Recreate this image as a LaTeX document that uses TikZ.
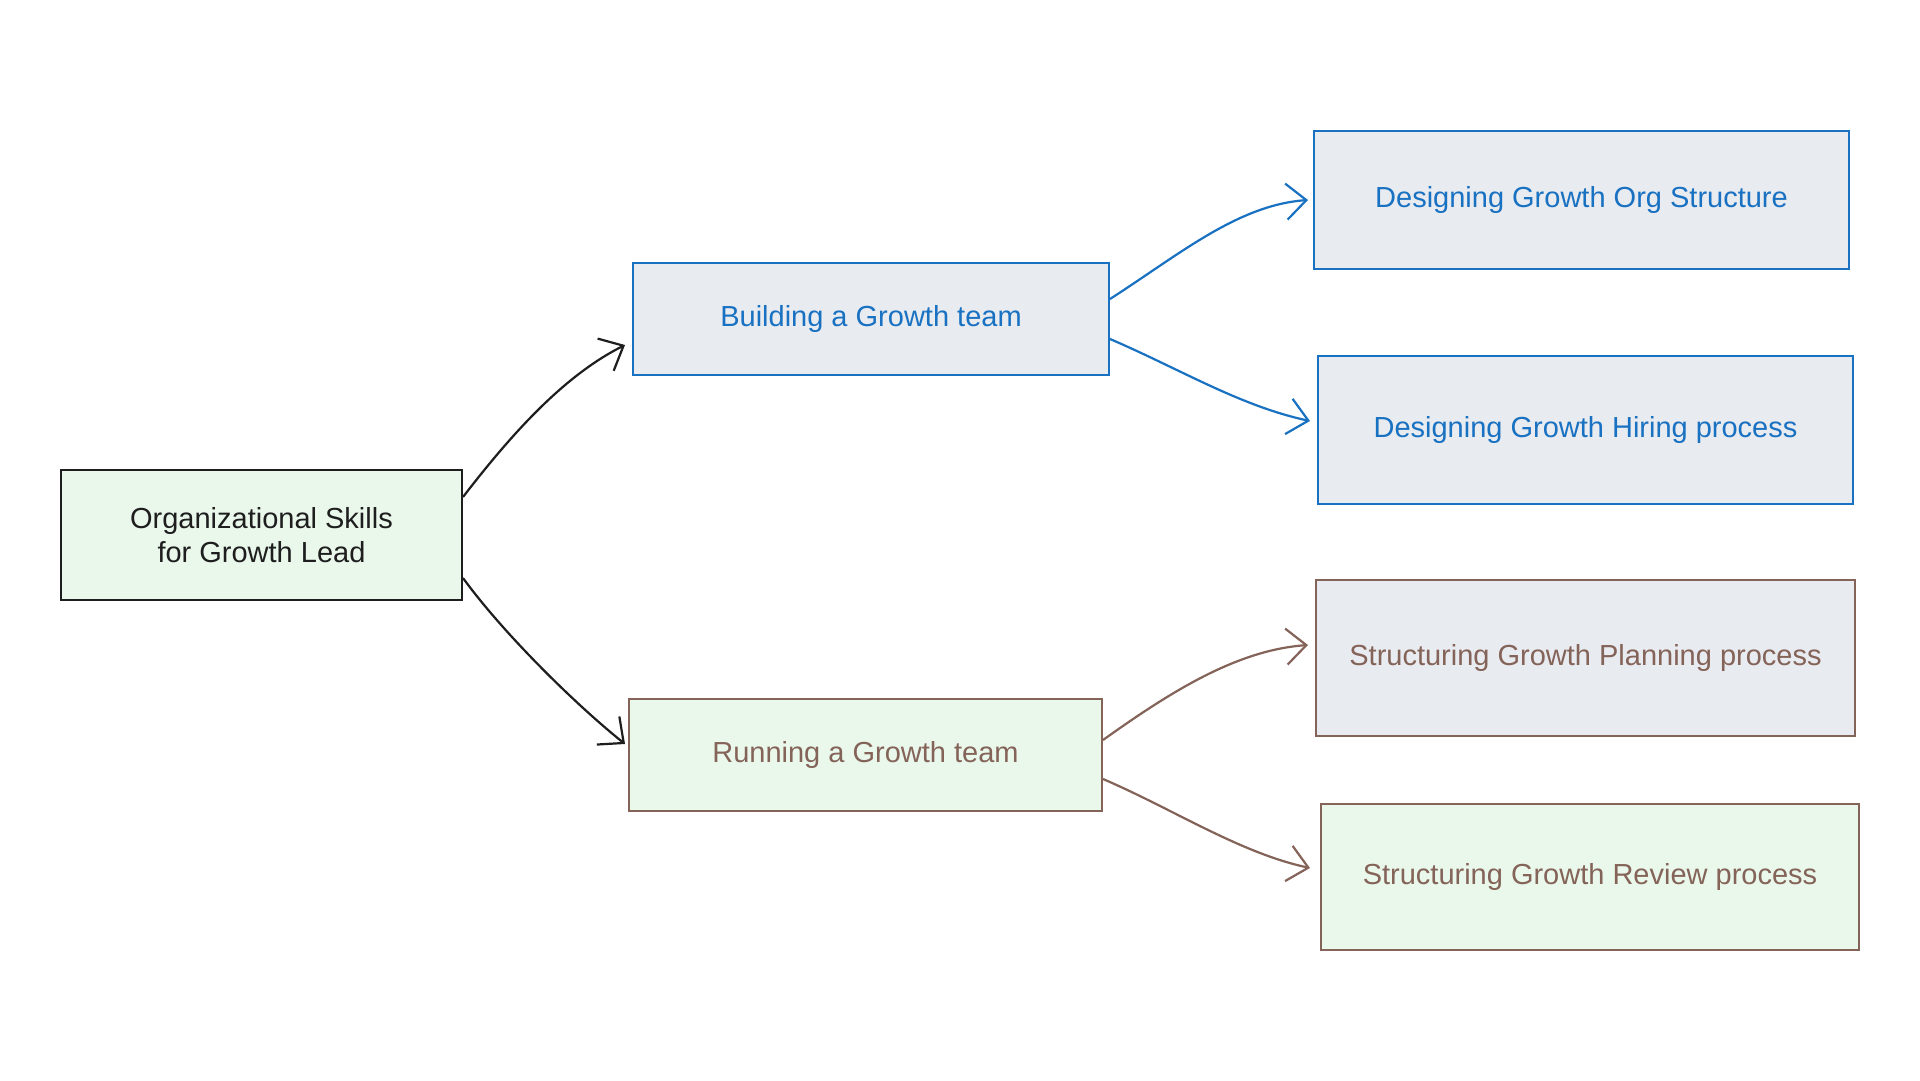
\documentclass[tikz,border=0pt]{standalone}
\usepackage{fontspec}
\setmainfont{Liberation Sans}
\usetikzlibrary{arrows.meta}
\definecolor{cblue}{HTML}{1971C2}
\definecolor{cbrown}{HTML}{846358}
\definecolor{cblack}{HTML}{1E1E1E}
\definecolor{fgray}{HTML}{E8EBF0}
\definecolor{fgreen}{HTML}{EAF8EC}
\tikzset{
  box/.style={rectangle, draw, line width=2pt, inner sep=0pt, align=center,
    font=\fontsize{29}{34}\selectfont},
  bluebox/.style={box, draw=cblue, fill=fgray, text=cblue},
  brownbox/.style={box, draw=cbrown, text=cbrown},
  conn/.style={line width=2.2pt, -{Straight Barb[length=20pt, width=36pt, line width=2.2pt]}},
}
\begin{document}
\begin{tikzpicture}[x=1pt, y=-1pt]
\useasboundingbox[fill=white] (0,0) rectangle (1920,1080);
\node[box, draw=cblack, fill=fgreen, text=cblack, minimum width=401pt, minimum height=130pt] (root) at (261.5,535) {Organizational Skills\\for Growth Lead};
\node[bluebox, minimum width=476pt, minimum height=112pt] (build) at (871,319) {Building a Growth team};
\node[brownbox, fill=fgreen, minimum width=473pt, minimum height=112pt] (run) at (865.5,755) {Running a Growth team};
\node[bluebox, minimum width=535pt, minimum height=138pt] (org) at (1581.5,200) {Designing Growth Org Structure};
\node[bluebox, minimum width=535pt, minimum height=148pt] (hire) at (1585.5,430) {Designing Growth Hiring process};
\node[brownbox, fill=fgray, minimum width=539pt, minimum height=156pt] (plan) at (1585.5,658) {Structuring Growth Planning process};
\node[brownbox, fill=fgreen, minimum width=538pt, minimum height=146pt] (rev) at (1590,877) {Structuring Growth Review process};

\draw[conn, cblack] ([yshift=38pt]root.east) .. controls +(50,-65) and +(-60,30) .. ([xshift=-7pt,yshift=-26pt]build.west);
\draw[conn, cblack] ([yshift=-43pt]root.east) .. controls +(40,55) and +(-50,-40) .. ([xshift=-3pt,yshift=11pt]run.west);
\draw[conn, cblue] ([yshift=20pt]build.east) .. controls +(70,-45) and +(-70,5) .. ([xshift=-5pt]org.west);
\draw[conn, cblue] ([yshift=-20pt]build.east) .. controls +(70,30) and +(-70,-15) .. ([xshift=-7pt,yshift=9pt]hire.west);
\draw[conn, cbrown] ([yshift=15pt]run.east) .. controls +(70,-50) and +(-70,5) .. ([xshift=-7pt,yshift=13pt]plan.west);
\draw[conn, cbrown] ([yshift=-24pt]run.east) .. controls +(70,30) and +(-70,-15) .. ([xshift=-10pt,yshift=9pt]rev.west);
\end{tikzpicture}
\end{document}
